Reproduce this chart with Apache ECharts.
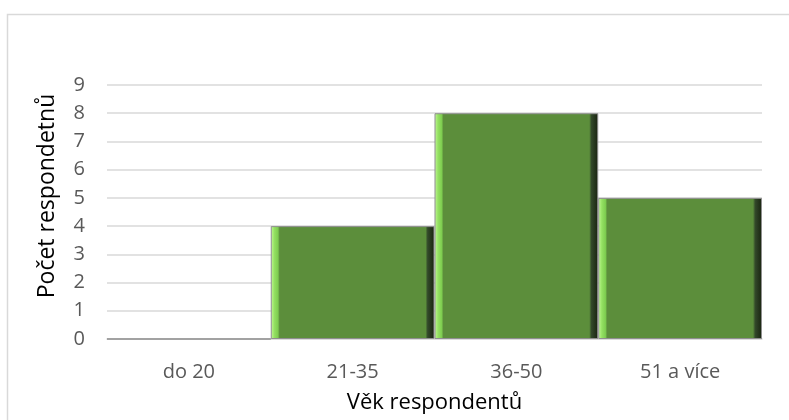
<!DOCTYPE html>
<html>
<head>
<meta charset="utf-8">
<script src="https://cdn.jsdelivr.net/npm/echarts@6/dist/echarts.min.js"></script>
<style>
  html, body { margin: 0; padding: 0; background: #fff; }
  #chart { width: 789px; height: 420px; }
</style>
</head>
<body>
<div id="chart"></div>
<script>
// Age groups of respondents and their counts
const categories = ['do 20', '21-35', '36-50', '51 a více'];
const counts = [0, 4, 8, 5];
const yTicks = { min: 0, max: 9, step: 1 };

const xTitle = 'Věk respondentů';
const yTitle = 'Počet respondetnů';

const font = '"Open Sans", "Liberation Sans", sans-serif';

// Horizontal gradient that imitates the bevelled edges of each column
const bevelFill = new echarts.graphic.LinearGradient(0, 0, 1, 0, [
  { offset: 0.000, color: '#c9c9c9' },
  { offset: 0.008, color: '#b4f285' },
  { offset: 0.022, color: '#94e062' },
  { offset: 0.044, color: '#7ecd50' },
  { offset: 0.054, color: '#5c8e3b' },
  { offset: 0.945, color: '#5c8e3b' },
  { offset: 0.958, color: '#33492a' },
  { offset: 1.000, color: '#18220f' }
]);

const chart = echarts.init(document.getElementById('chart'), null, { renderer: 'canvas' });

chart.setOption({
  animation: false,
  backgroundColor: '#ffffff',
  graphic: [{
    type: 'rect',
    shape: { x: 7.5, y: 14.5, width: 820, height: 440 },
    style: { fill: 'none', stroke: '#d9d9d9', lineWidth: 1.5 },
    silent: true
  }],
  grid: { left: 107, right: 27, top: 85, bottom: 81 },
  xAxis: {
    type: 'category',
    data: categories,
    name: xTitle,
    nameLocation: 'middle',
    nameGap: 53,
    nameTextStyle: { fontFamily: font, fontSize: 22, color: '#000000' },
    axisTick: { show: false },
    axisLine: { lineStyle: { color: '#d9d9d9', width: 1.5 } },
    axisLabel: { fontFamily: font, fontSize: 20, color: '#595959', margin: 23 }
  },
  yAxis: {
    type: 'value',
    min: yTicks.min,
    max: yTicks.max,
    interval: yTicks.step,
    name: yTitle,
    nameLocation: 'middle',
    nameRotate: 90,
    nameGap: 48,
    nameTextStyle: {
      fontFamily: font, fontSize: 23, color: '#000000',
      padding: [0, 0, 0, 32]
    },
    axisLine: { show: false },
    axisTick: { show: false },
    axisLabel: { fontFamily: font, fontSize: 20, color: '#595959', margin: 22 },
    splitLine: { lineStyle: { color: '#d9d9d9', width: 1.5 } }
  },
  series: [{
    type: 'bar',
    data: counts,
    barCategoryGap: '0%',
    itemStyle: {
      color: bevelFill,
      borderColor: '#8f8f8f',
      borderWidth: 1
    }
  }]
});
</script>
</body>
</html>
